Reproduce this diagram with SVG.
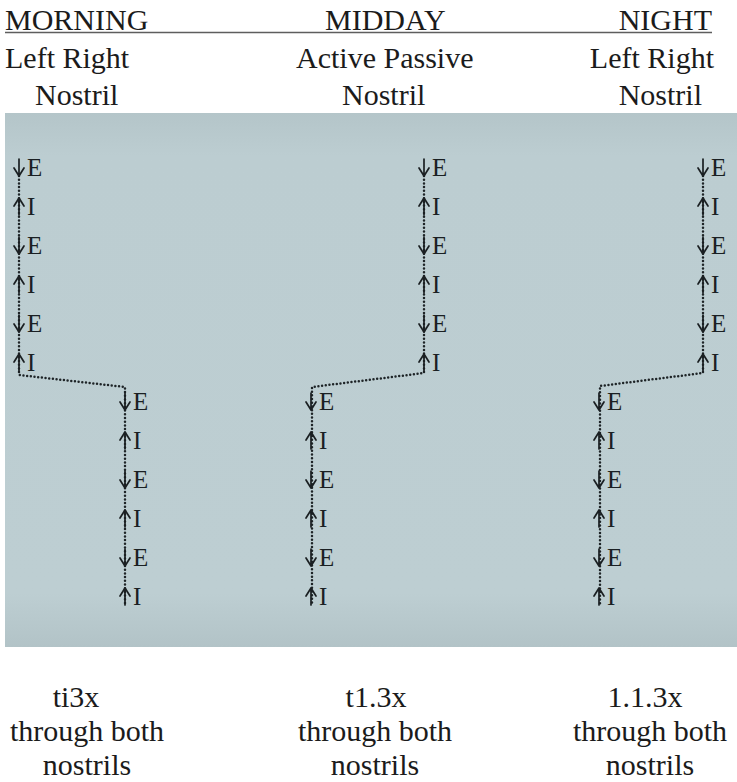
<svg xmlns="http://www.w3.org/2000/svg" width="737" height="782" viewBox="0 0 737 782">
  <style>
    .hd { font-family: "Liberation Serif", "Times New Roman", serif; font-size: 30px; fill: #1b1b1b; }
    .lb { font-family: "Liberation Serif", "Times New Roman", serif; font-size: 25px; fill: #1a1f22; }
    .dots { fill: none; stroke: #1e2427; stroke-width: 2.5; stroke-linecap: round; stroke-dasharray: 0 3.7; }
    .arr { fill: none; stroke: #1a1f22; stroke-width: 1.7; stroke-linecap: round; stroke-linejoin: round; }
  </style>
  <defs>
    <linearGradient id="panelFill" x1="0" y1="0" x2="0" y2="1">
      <stop offset="0" stop-color="#b4c5c9"/>
      <stop offset="0.08" stop-color="#bccdd1"/>
      <stop offset="0.9" stop-color="#bdced2"/>
      <stop offset="1" stop-color="#b2c3c7"/>
    </linearGradient>
    <!-- down arrow before an E, drawn with its tip at (0,0) -->
    <path id="down" d="M0,-17 V0 M-5,-8 L0,0 L5,-8"/>
    <!-- up arrow before an I, tip at (0,-17), foot on the baseline -->
    <path id="up" d="M0,0 V-17 M-5,-9 L0,-17 L5,-9"/>
  </defs>

  <rect width="737" height="782" fill="#ffffff"/>

  <!-- header -->
  <g id="header">
    <line x1="5" y1="32.5" x2="712" y2="32.5" stroke="#5e5e5e" stroke-width="1.5"/>
    <text class="hd" x="5" y="30">MORNING</text>
    <text class="hd" x="325" y="30">MIDDAY</text>
    <text class="hd" x="712" y="30" text-anchor="end">NIGHT</text>
    <text class="hd" x="5" y="68">Left Right</text>
    <text class="hd" x="35" y="105">Nostril</text>
    <text class="hd" x="296" y="68">Active Passive</text>
    <text class="hd" x="342" y="105">Nostril</text>
    <text class="hd" x="714" y="68" text-anchor="end">Left Right</text>
    <text class="hd" x="702" y="105" text-anchor="end">Nostril</text>
  </g>

  <!-- panel -->
  <rect id="panel" x="5" y="113" width="732" height="534" fill="url(#panelFill)"/>

  <!-- dotted connectors -->
  <g id="connectors">
    <path class="dots" d="M19,176 V375 L125,387 V605"/>
    <path class="dots" d="M424,176 V373 L312,387 V605"/>
    <path class="dots" d="M703,176 V373 L600,386 V605"/>
  </g>

  <!-- morning column -->
  <g id="morning">
    <g class="arr">
      <use href="#down" x="19" y="176"/><use href="#up" x="19" y="215"/>
      <use href="#down" x="19" y="254"/><use href="#up" x="19" y="293"/>
      <use href="#down" x="19" y="332"/><use href="#up" x="19" y="371"/>
      <use href="#down" x="125" y="410"/><use href="#up" x="125" y="449"/>
      <use href="#down" x="125" y="488"/><use href="#up" x="125" y="527"/>
      <use href="#down" x="125" y="566"/><use href="#up" x="125" y="605"/>
    </g>
    <text class="lb" x="27" y="176">E</text><text class="lb" x="27" y="215">I</text>
    <text class="lb" x="27" y="254">E</text><text class="lb" x="27" y="293">I</text>
    <text class="lb" x="27" y="332">E</text><text class="lb" x="27" y="371">I</text>
    <text class="lb" x="133" y="410">E</text><text class="lb" x="133" y="449">I</text>
    <text class="lb" x="133" y="488">E</text><text class="lb" x="133" y="527">I</text>
    <text class="lb" x="133" y="566">E</text><text class="lb" x="133" y="605">I</text>
  </g>

  <!-- midday column -->
  <g id="midday">
    <g class="arr">
      <use href="#down" x="424" y="176"/><use href="#up" x="424" y="215"/>
      <use href="#down" x="424" y="254"/><use href="#up" x="424" y="293"/>
      <use href="#down" x="424" y="332"/><use href="#up" x="424" y="371"/>
      <use href="#down" x="311" y="410"/><use href="#up" x="311" y="449"/>
      <use href="#down" x="311" y="488"/><use href="#up" x="311" y="527"/>
      <use href="#down" x="311" y="566"/><use href="#up" x="311" y="605"/>
    </g>
    <text class="lb" x="432" y="176">E</text><text class="lb" x="432" y="215">I</text>
    <text class="lb" x="432" y="254">E</text><text class="lb" x="432" y="293">I</text>
    <text class="lb" x="432" y="332">E</text><text class="lb" x="432" y="371">I</text>
    <text class="lb" x="319" y="410">E</text><text class="lb" x="319" y="449">I</text>
    <text class="lb" x="319" y="488">E</text><text class="lb" x="319" y="527">I</text>
    <text class="lb" x="319" y="566">E</text><text class="lb" x="319" y="605">I</text>
  </g>

  <!-- night column -->
  <g id="night">
    <g class="arr">
      <use href="#down" x="703" y="176"/><use href="#up" x="703" y="215"/>
      <use href="#down" x="703" y="254"/><use href="#up" x="703" y="293"/>
      <use href="#down" x="703" y="332"/><use href="#up" x="703" y="371"/>
      <use href="#down" x="599" y="410"/><use href="#up" x="599" y="449"/>
      <use href="#down" x="599" y="488"/><use href="#up" x="599" y="527"/>
      <use href="#down" x="599" y="566"/><use href="#up" x="599" y="605"/>
    </g>
    <text class="lb" x="711" y="176">E</text><text class="lb" x="711" y="215">I</text>
    <text class="lb" x="711" y="254">E</text><text class="lb" x="711" y="293">I</text>
    <text class="lb" x="711" y="332">E</text><text class="lb" x="711" y="371">I</text>
    <text class="lb" x="607" y="410">E</text><text class="lb" x="607" y="449">I</text>
    <text class="lb" x="607" y="488">E</text><text class="lb" x="607" y="527">I</text>
    <text class="lb" x="607" y="566">E</text><text class="lb" x="607" y="605">I</text>
  </g>

  <!-- footer -->
  <g id="footer">
    <text class="hd" x="76" y="707" text-anchor="middle">ti3x</text>
    <text class="hd" x="87" y="741" text-anchor="middle">through both</text>
    <text class="hd" x="87" y="775" text-anchor="middle">nostrils</text>
    <text class="hd" x="376" y="707" text-anchor="middle">t1.3x</text>
    <text class="hd" x="375" y="741" text-anchor="middle">through both</text>
    <text class="hd" x="375" y="775" text-anchor="middle">nostrils</text>
    <text class="hd" x="645" y="707" text-anchor="middle">1.1.3x</text>
    <text class="hd" x="650" y="741" text-anchor="middle">through both</text>
    <text class="hd" x="650" y="775" text-anchor="middle">nostrils</text>
  </g>
</svg>
